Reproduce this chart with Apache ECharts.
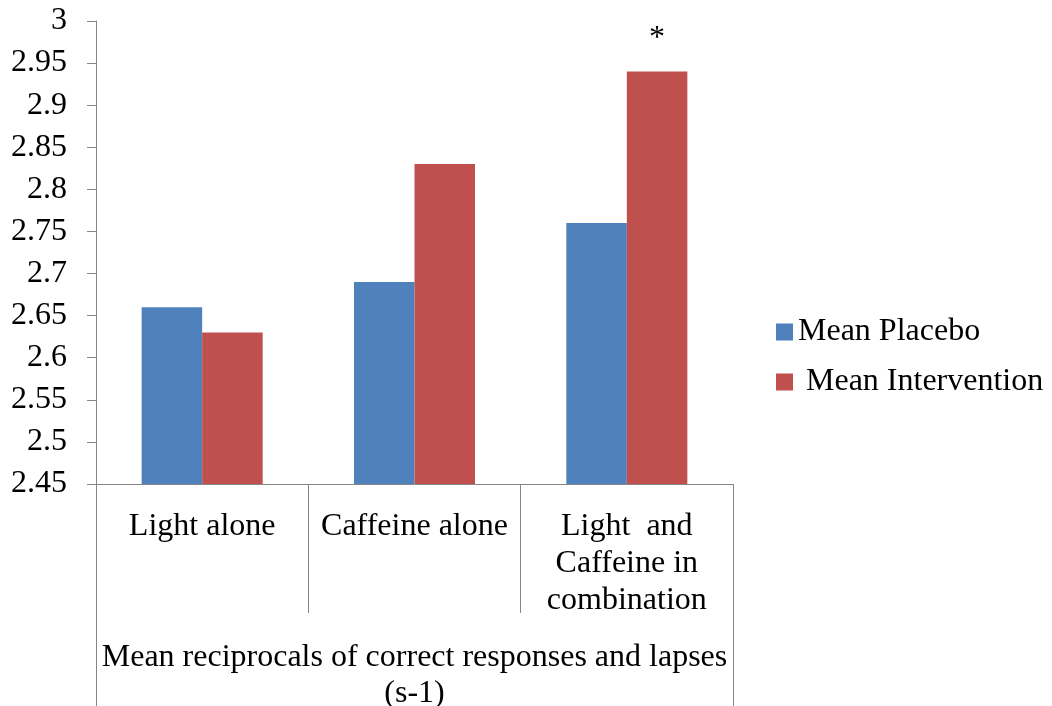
<!DOCTYPE html>
<html><head><meta charset="utf-8">
<script src="https://cdn.jsdelivr.net/npm/echarts@6/dist/echarts.min.js"></script>
<style>html,body{margin:0;padding:0;background:#fff}#c{width:1052px;height:706px}</style>
</head><body><div id="c"></div>
<script>
const categories = ['Light alone', 'Caffeine alone', 'Light  and\nCaffeine in\ncombination'];
const groupLabel = ['Mean reciprocals of correct responses and lapses\n(s-1)'];
const placebo = [2.66, 2.69, 2.76];
const intervention = [2.63, 2.83, 2.94];
const significant = [false, false, true];
const seriesNames = ['Mean Placebo', ' Mean Intervention'];

const FONT = '"Liberation Serif", "Times New Roman", serif';
const AX = '#868686';
const FS = 32;
const chart = echarts.init(document.getElementById('c'), null, {renderer: 'canvas'});
chart.setOption({
  animation: false,
  textStyle: {fontFamily: FONT, color: '#000'},
  grid: {left: 96, right: 319, top: 21, bottom: 222, containLabel: false, outerBoundsMode: 'none'},
  legend: {
    orient: 'vertical', left: 776, top: 315, padding: 0, itemWidth: 17, itemHeight: 17, itemGap: 16,
    icon: 'rect',
    textStyle: {fontFamily: FONT, fontSize: FS, color: '#000', lineHeight: 34},
    data: seriesNames
  },
  xAxis: [{
    type: 'category', data: categories, position: 'bottom',
    axisLine: {lineStyle: {color: AX, width: 1}},
    axisTick: {show: true, interval: 0, length: 129, lineStyle: {color: AX, width: 1}},
    axisLabel: {interval: 0, margin: 24, fontFamily: FONT, fontSize: FS, color: '#000', lineHeight: 37}
  }, {
    type: 'category', data: groupLabel, position: 'bottom', offset: 129, gridIndex: 0,
    axisLine: {show: false},
    axisTick: {show: true, interval: 0, length: 93, lineStyle: {color: AX, width: 1}},
    axisLabel: {interval: 0, margin: 27, fontFamily: FONT, fontSize: FS, color: '#000', lineHeight: 36}
  }],
  yAxis: {
    type: 'value', min: 2.45, max: 3, interval: 0.05,
    splitLine: {show: false},
    axisLine: {show: true, lineStyle: {color: AX, width: 1}},
    axisTick: {show: true, length: 9, lineStyle: {color: AX, width: 1}},
    axisLabel: {margin: 29, fontFamily: FONT, fontSize: FS, color: '#000', padding: [5, 0, 0, 0],
      formatter: v => String(Math.round(v * 100) / 100)}
  },
  series: [{
    name: seriesNames[0], type: 'bar', xAxisIndex: 0, data: placebo,
    itemStyle: {color: '#4F81BD'}, barGap: '0%', barCategoryGap: '43%'
  }, {
    name: seriesNames[1], type: 'bar', xAxisIndex: 0,
    data: intervention.map((v, i) => significant[i] ? {
      value: v,
      label: {show: true, position: 'top', distance: 17, formatter: '*', fontFamily: FONT, fontSize: FS, color: '#000'}
    } : v),
    itemStyle: {color: '#C0504D'}, barGap: '0%', barCategoryGap: '43%'
  }]
});
</script></body></html>
